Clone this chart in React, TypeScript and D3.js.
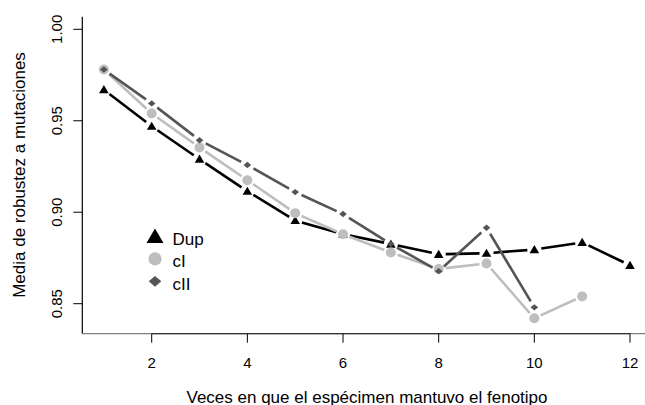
import React from "react";
import * as d3 from "d3";

const dupX = [1, 2, 3, 4, 5, 6, 7, 8, 9, 10, 11, 12];
const dupY = [0.967, 0.947, 0.929, 0.9115, 0.8955, 0.888, 0.8826, 0.877, 0.8776, 0.8796, 0.8835, 0.871];
const cIX = [1, 2, 3, 4, 5, 6, 7, 8, 9, 10, 11];
const cIY = [0.978, 0.954, 0.9354, 0.9175, 0.8995, 0.888, 0.878, 0.869, 0.872, 0.842, 0.854];
const cIIX = [1, 2, 3, 4, 5, 6, 7, 8, 9, 10];
const cIIY = [0.978, 0.9595, 0.9394, 0.9258, 0.911, 0.899, 0.8826, 0.8678, 0.8915, 0.848];
const xTicks = [2, 4, 6, 8, 10, 12];
const yTicks = [0.85, 0.9, 0.95, 1.0];
const legendLabels = ["Dup", "cI", "cII"];

const W = 645;
const H = 405;
const FONT = "Liberation Sans, Arial, Helvetica, sans-serif";

const x = d3.scaleLinear().domain([2, 12]).range([151.7, 630]);
const y = d3.scaleLinear().domain([0.85, 1.0]).range([303.7, 29.3]);

type Shape = "tri" | "circle" | "diamond";

function Marker({ cx, cy, shape, color, size }: { cx: number; cy: number; shape: Shape; color: string; size: number }) {
  if (shape === "circle") return <circle cx={cx} cy={cy} r={size} fill={color} />;
  const p = d3.path();
  if (shape === "tri") {
    p.moveTo(cx, cy - size * 0.95);
    p.lineTo(cx + size, cy + size * 0.75);
    p.lineTo(cx - size, cy + size * 0.75);
  } else {
    p.moveTo(cx, cy - size * 0.85);
    p.lineTo(cx + size, cy);
    p.lineTo(cx, cy + size * 0.85);
    p.lineTo(cx - size, cy);
  }
  p.closePath();
  return <path d={p.toString()} fill={color} />;
}

// line segments with gaps around each point (like R's type = "b")
function gappedSegments(xs: number[], ys: number[], gap: number) {
  const segs: [number, number, number, number][] = [];
  for (let i = 0; i < xs.length - 1; i++) {
    const x1 = x(xs[i]), y1 = y(ys[i]), x2 = x(xs[i + 1]), y2 = y(ys[i + 1]);
    const dx = x2 - x1, dy = y2 - y1;
    const len = Math.hypot(dx, dy);
    if (len <= 2 * gap) continue;
    const ux = dx / len, uy = dy / len;
    segs.push([x1 + ux * gap, y1 + uy * gap, x2 - ux * gap, y2 - uy * gap]);
  }
  return segs;
}

const series = [
  { xs: dupX, ys: dupY, color: "#000000", shape: "tri" as Shape, size: 4.8, legendSize: 8.5 },
  { xs: cIX, ys: cIY, color: "#bebebe", shape: "circle" as Shape, size: 5, legendSize: 6.6 },
  { xs: cIIX, ys: cIIY, color: "#555555", shape: "diamond" as Shape, size: 3.8, legendSize: 6.3 },
];

export default function App() {
  const axisY = 333.7;
  const axisX = 82.3;
  return (
    <svg width={W} height={H} style={{ position: "absolute", left: 0, top: 0, background: "#fff" }} fontFamily={FONT}>
      {/* axes */}
      <line x1={axisX} y1={16.7} x2={axisX} y2={axisY} stroke="#000" strokeWidth={1.2} />
      <line x1={axisX} y1={axisY} x2={W} y2={axisY} stroke="#808080" strokeWidth={1.2} />
      <line x1={x(2)} y1={axisY} x2={x(12)} y2={axisY} stroke="#333" strokeWidth={1.2} />
      {xTicks.map((t) => (
        <g key={"xt" + t}>
          <line x1={x(t)} y1={axisY} x2={x(t)} y2={axisY + 9} stroke="#000" strokeWidth={1} />
          <text x={x(t)} y={367.5} textAnchor="middle" fontSize={15} fill="#000">
            {t}
          </text>
        </g>
      ))}
      {yTicks.map((t) => (
        <g key={"yt" + t}>
          <line x1={axisX - 9} y1={y(t)} x2={axisX} y2={y(t)} stroke="#000" strokeWidth={1} />
          <text
            transform={`translate(62,${y(t)}) rotate(-90)`}
            textAnchor="middle"
            fontSize={15}
            fill="#000"
          >
            {d3.format(".2f")(t)}
          </text>
        </g>
      ))}
      <text x={367} y={402.5} textAnchor="middle" fontSize={17} fill="#000">
        Veces en que el espécimen mantuvo el fenotipo
      </text>
      <text transform={`translate(25,175) rotate(-90)`} textAnchor="middle" fontSize={17} fill="#000">
        Media de robustez a mutaciones
      </text>

      {/* series */}
      {series.map((s, si) => (
        <g key={"s" + si}>
          {gappedSegments(s.xs, s.ys, 7).map((g, i) => (
            <line key={i} x1={g[0]} y1={g[1]} x2={g[2]} y2={g[3]} stroke={s.color} strokeWidth={2.6} />
          ))}
          {s.xs.map((xv, i) => (
            <Marker key={i} cx={x(xv)} cy={y(s.ys[i])} shape={s.shape} color={s.color} size={s.size} />
          ))}
        </g>
      ))}

      {/* legend */}
      {legendLabels.map((lab, i) => {
        const cy = 236.5 + i * 22.4;
        const s = series[i];
        return (
          <g key={"lg" + i}>
            <Marker cx={155} cy={cy} shape={s.shape} color={s.color} size={s.legendSize} />
            <text x={172.5} y={cy + 8.5} fontSize={17} fill="#000">
              {lab}
            </text>
          </g>
        );
      })}
    </svg>
  );
}
